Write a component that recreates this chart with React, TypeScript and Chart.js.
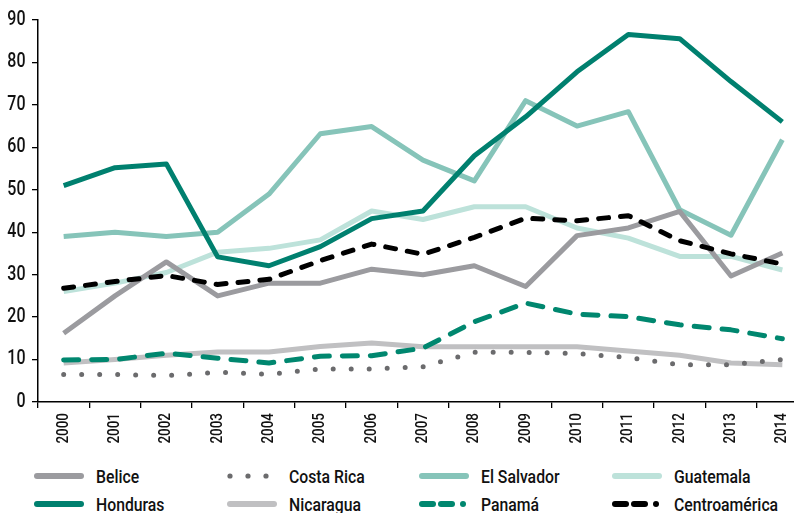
import React, { useEffect, useRef } from "react";
import { Chart, registerables } from "chart.js";

Chart.register(...registerables);

const years = ["2000","2001","2002","2003","2004","2005","2006","2007","2008","2009","2010","2011","2012","2013","2014"];
const belice = [16.2, 25, 33, 25, 28, 28, 31.3, 30, 32.1, 27.2, 39.2, 41, 44.9, 29.7, 35.1];
const costaRica = [6.5, 6.5, 6.2, 7, 6.5, 7.8, 7.8, 8.3, 11.7, 11.7, 11.4, 10.5, 8.8, 8.8, 10];
const elSalvador = [39, 40, 39, 40, 49, 63.2, 64.9, 57, 52.1, 71, 65, 68.4, 45.3, 39.3, 61.8];
const guatemala = [26, 28, 30.5, 35.3, 36.2, 38.2, 45, 43, 46, 46, 41, 38.6, 34.3, 34.3, 31.1];
const honduras = [51, 55.2, 56.1, 34.2, 32.1, 36.6, 43.2, 45, 58, 67.2, 77.8, 86.6, 85.6, 75.5, 66];
const nicaragua = [9.2, 10, 11, 11.8, 11.8, 13.1, 13.9, 13, 13, 13, 13, 12, 11, 9.2, 8.8];
const panama = [9.9, 10, 11.5, 10.3, 9.2, 10.8, 10.9, 12.7, 18.9, 23.3, 20.7, 20.1, 18.2, 17, 14.9];
const centroamerica = [26.8, 28.4, 29.8, 27.7, 28.9, 33.3, 37.2, 34.8, 38.8, 43.3, 42.7, 43.9, 38, 34.9, 32.5];
const yTicks = [0, 10, 20, 30, 40, 50, 60, 70, 80, 90];

const C = {
  belice: "#9b9b9f",
  costa: "#6b6b6d",
  salvador: "#86c4b9",
  guatemala: "#bde2da",
  honduras: "#00806f",
  nicaragua: "#c0c0c2",
  panama: "#00876f",
  centro: "#000000",
};

const FONT = "Roboto, 'Liberation Sans', sans-serif";
const TEXT = "#111";

type Item = { label: string; color: string; kind: "solid" | "dots" | "dash" };
const legendRows: Item[][] = [
  [
    { label: "Belice", color: C.belice, kind: "solid" },
    { label: "Costa Rica", color: C.costa, kind: "dots" },
    { label: "El Salvador", color: C.salvador, kind: "solid" },
    { label: "Guatemala", color: C.guatemala, kind: "solid" },
  ],
  [
    { label: "Honduras", color: C.honduras, kind: "solid" },
    { label: "Nicaragua", color: C.nicaragua, kind: "solid" },
    { label: "Panamá", color: C.panama, kind: "dash" },
    { label: "Centroamérica", color: C.centro, kind: "dash" },
  ],
];

function Icon({ item }: { item: Item }) {
  const common = { stroke: item.color, strokeWidth: 6, strokeLinecap: "round" as const };
  let content;
  if (item.kind === "solid") {
    content = <line x1={4} y1={5} x2={48} y2={5} {...common} />;
  } else if (item.kind === "dots") {
    content = (
      <g fill={item.color}>
        <circle cx={4} cy={5} r={2.6} />
        <circle cx={22} cy={5} r={2.6} />
        <circle cx={40} cy={5} r={2.6} />
      </g>
    );
  } else {
    content = (
      <g>
        <line x1={4} y1={5} x2={15} y2={5} {...common} />
        <line x1={23} y1={5} x2={34} y2={5} {...common} />
        <circle cx={45} cy={5} r={3} fill={item.color} />
      </g>
    );
  }
  return (
    <svg width={52} height={10} style={{ display: "block" }}>
      {content}
    </svg>
  );
}

const labelPlugin = {
  id: "condensedLabels",
  afterDraw(chart: any) {
    const ctx = chart.ctx as CanvasRenderingContext2D;
    const xs = chart.scales.x;
    const ys = chart.scales.y;
    ctx.save();
    ctx.fillStyle = TEXT;
    ctx.font = `500 19.5px ${FONT}`;
    yTicks.forEach((v) => {
      const py = ys.getPixelForValue(v);
      ctx.save();
      ctx.translate(ys.right - 12.5, py);
      ctx.scale(0.82, 1);
      ctx.textAlign = "right";
      ctx.textBaseline = "middle";
      ctx.fillText(String(v), 0, 0);
      ctx.restore();
    });
    ctx.font = `500 16px ${FONT}`;
    years.forEach((lab, i) => {
      const px = xs.getPixelForValue(i);
      ctx.save();
      ctx.translate(px, xs.top + 11);
      ctx.rotate(-Math.PI / 2);
      ctx.scale(0.84, 1);
      ctx.textAlign = "right";
      ctx.textBaseline = "middle";
      ctx.fillText(lab, 0, 0);
      ctx.restore();
    });
    ctx.restore();
  },
};

export default function App() {
  const ref = useRef<HTMLCanvasElement | null>(null);

  useEffect(() => {
    if (!ref.current) return;
    const base = {
      borderWidth: 5,
      pointRadius: 0,
      pointHoverRadius: 0,
      tension: 0,
      fill: false,
      borderJoinStyle: "round" as const,
    };
    const chart = new Chart(ref.current, {
      type: "line",
      data: {
        labels: years,
        datasets: [
          { ...base, label: "Centroamérica", data: centroamerica, borderColor: C.centro, borderDash: [10, 12], borderCapStyle: "round", order: 0 },
          { ...base, label: "Honduras", data: honduras, borderColor: C.honduras, order: 1 },
          { ...base, label: "Panamá", data: panama, borderColor: C.panama, borderDash: [15, 13], borderCapStyle: "round", order: 2 },
          { ...base, label: "Costa Rica", data: costaRica, borderColor: C.costa, borderDash: [0, 18], borderCapStyle: "round", order: 3 },
          { ...base, label: "Belice", data: belice, borderColor: C.belice, order: 4 },
          { ...base, label: "Nicaragua", data: nicaragua, borderColor: C.nicaragua, order: 5 },
          { ...base, label: "El Salvador", data: elSalvador, borderColor: C.salvador, order: 6 },
          { ...base, label: "Guatemala", data: guatemala, borderColor: C.guatemala, order: 7 },
        ],
      },
      options: {
        animation: false,
        responsive: false,
        maintainAspectRatio: false,
        layout: { padding: { top: 20, right: 4, left: 0, bottom: 0 } },
        plugins: { legend: { display: false }, tooltip: { enabled: false } },
        scales: {
          x: {
            offset: true,
            grid: { offset: true, drawOnChartArea: false, drawTicks: true, tickLength: 6, color: "#000", lineWidth: 1.3 },
            border: { color: "#000", width: 1.5 },
            ticks: { autoSkip: false, display: false },
            afterFit: (s: any) => { s.height = 54; },
          },
          y: {
            min: 0,
            max: 90,
            afterBuildTicks: (s: any) => { s.ticks = yTicks.map((v) => ({ value: v })); },
            grid: { drawOnChartArea: false, drawTicks: true, tickLength: 6, color: "#000", lineWidth: 1.3 },
            border: { color: "#000", width: 1.5 },
            ticks: { display: false },
            afterFit: (s: any) => { s.width = 38; },
          },
        },
      },
      plugins: [labelPlugin],
    });
    return () => chart.destroy();
  }, []);

  return (
    <div style={{ position: "fixed", left: 0, top: 0, width: 794, height: 513, overflow: "hidden", background: "#fff" }}>
      <canvas ref={ref} width={812} height={456} style={{ position: "absolute", left: 0, top: 0, width: 812, height: 456 }} />
      {legendRows.map((row, ri) => (
        <div key={ri} style={{ position: "absolute", left: 0, top: ri === 0 ? 462 : 490, height: 28 }}>
          {row.map((it, ci) => (
            <div
              key={ci}
              style={{
                position: "absolute",
                left: 33 + ci * 192.5,
                top: 0,
                height: 28,
                display: "flex",
                alignItems: "center",
                whiteSpace: "nowrap",
                fontFamily: FONT,
                fontWeight: 500,
                fontSize: 19,
                color: TEXT,
              }}
            >
              <Icon item={it} />
              <span style={{ marginLeft: 11, display: "inline-block", transform: "scaleX(0.83)", transformOrigin: "left center" }}>{it.label}</span>
            </div>
          ))}
        </div>
      ))}
    </div>
  );
}
